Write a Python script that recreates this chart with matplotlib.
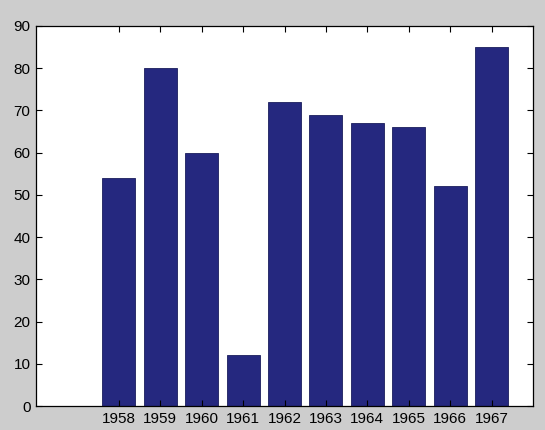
import matplotlib
matplotlib.use("Agg")
import matplotlib.pyplot as plt

years = [1958, 1959, 1960, 1961, 1962, 1963, 1964, 1965, 1966, 1967]
values = [54, 80, 60, 12, 72, 69, 67, 66, 52, 85]
yticks = [0, 10, 20, 30, 40, 50, 60, 70, 80, 90]

plt.rcParams['font.family'] = ['Liberation Sans', 'DejaVu Sans']

fig = plt.figure(figsize=(5.45, 4.30), dpi=100, facecolor='#cdcdcd')
ax = fig.add_axes([36/545, 1 - 406/430, (533-36)/545, (406-26)/430])
ax.set_facecolor('white')
ax.bar(years, values, width=0.8, color='#25287f', edgecolor='#1a1d5c', linewidth=0.6)
ax.set_xlim(1956, 1968)
ax.set_ylim(0, 90)
ax.set_xticks(years)
ax.set_xticklabels([str(y) for y in years])
ax.set_yticks(yticks)
ax.tick_params(direction='in', top=True, right=True, length=4, labelsize=11, colors='black', pad=4)
for s in ax.spines.values():
    s.set_linewidth(0.9)
fig.savefig('out.png', dpi=100, facecolor=fig.get_facecolor())
